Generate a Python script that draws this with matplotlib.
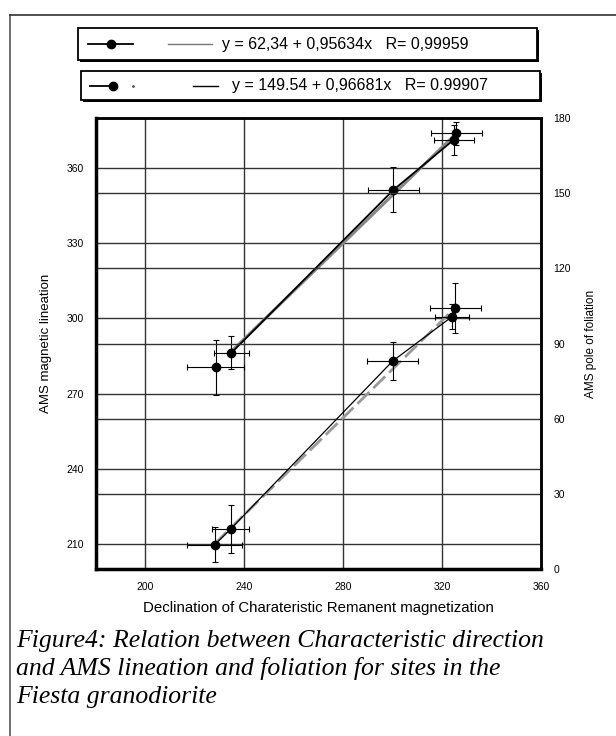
import matplotlib
matplotlib.use("Agg")
import matplotlib.pyplot as plt
import numpy as np
from matplotlib.patches import Rectangle
from matplotlib.lines import Line2D

# ---- data ----
lin_x = [228.5, 234.8, 300.3, 324.7, 325.8]
lin_y = [280.5, 286.3, 351.3, 371.3, 373.9]
lin_xerr = [11.5, 7.0, 10.3, 8.0, 10.3]
lin_yerr = [11.0, 6.5, 9.0, 6.0, 4.5]

fol_x = [228.0, 234.5, 300.0, 324.0, 325.4]
fol_y = [9.6, 16.0, 83.0, 100.7, 104.3]
fol_xerr = [11.0, 7.5, 10.3, 7.0, 10.3]
fol_yerr = [7.0, 9.5, 7.5, 5.0, 10.0]

lin_fit = (62.34, 0.95634)
legend_texts = ["y = 62,34 + 0,95634x   R= 0,99959",
                "y = 149.54 + 0,96681x   R= 0.99907"]

x_ticks = [200, 240, 280, 320, 360]
left_ticks = [210, 240, 270, 300, 330, 360]
right_ticks = [0, 30, 60, 90, 120, 150, 180]

xlabel = "Declination of Charateristic Remanent magnetization"
ylabel_left = "AMS magnetic lineation"
ylabel_right = "AMS pole of foliation"
caption_lines = ["Figure4: Relation between Characteristic direction",
                 "and AMS lineation and foliation for sites in the",
                 "Fiesta granodiorite"]

plt.rcParams['font.family'] = ['Liberation Sans', 'DejaVu Sans']

W, H = 616, 736
fig = plt.figure(figsize=(W / 100, H / 100), dpi=100)

def fx(px):
    return px / W

def fy(py):
    return 1 - py / H

# page border lines
fig.add_artist(Line2D([fx(10), fx(10)], [fy(15), fy(736)], color='#555555', lw=1.2))
fig.add_artist(Line2D([fx(10), fx(616)], [fy(15), fy(15)], color='#333333', lw=1.2))

ax = fig.add_axes([fx(96), fy(569), fx(541) - fx(96), fy(118) - fy(569)])
ax2 = ax.twinx()

ax.set_xlim(180, 360)
ax.set_ylim(200, 380)
ax2.set_ylim(0, 180)

ax.set_xticks(x_ticks)
ax.set_yticks(left_ticks)
ax2.set_yticks(right_ticks)

for a in (ax, ax2):
    a.tick_params(length=0, labelsize=7.5)
ax.tick_params(axis='x', pad=9)
ax.tick_params(axis='y', pad=9)
ax2.tick_params(axis='y', pad=9)

# gridlines
gcol = '#333333'
for xv in x_ticks[:-1]:
    ax.axvline(xv, color=gcol, lw=1.0, zorder=0)
for yv in left_ticks:
    ax.axhline(yv, color=gcol, lw=1.0, zorder=0)
for yv in right_ticks[1:-1]:
    ax2.axhline(yv, color=gcol, lw=1.0, zorder=0)

for a in (ax, ax2):
    for s in a.spines.values():
        s.set_linewidth(1.8)
        s.set_color('black')
ax.spines['left'].set_linewidth(2.5)
ax.spines['bottom'].set_linewidth(2.5)

# lineation
xs = np.array(lin_x)
ax.plot(xs[[1, -1]], lin_fit[0] + lin_fit[1] * xs[[1, -1]], color='#888888', lw=2.2, zorder=2)
ax.plot(lin_x[1:], lin_y[1:], color='black', lw=1.3, zorder=3)
ax.errorbar(lin_x, lin_y, xerr=lin_xerr, yerr=lin_yerr, fmt='o', color='black',
            ms=6, elinewidth=0.8, capsize=2, capthick=0.8, zorder=4)

# foliation
fx_arr = np.array(fol_x)
coef = np.polyfit(fol_x, fol_y, 1)
ax2.plot(fx_arr[[0, -1]], np.polyval(coef, fx_arr[[0, -1]]), color='#999999', lw=2.0,
         ls=(0, (6, 2)), zorder=2)
ax2.plot(fol_x, fol_y, color='black', lw=0.9, zorder=3)
ax2.errorbar(fol_x, fol_y, xerr=fol_xerr, yerr=fol_yerr, fmt='o', color='black',
             ms=6, elinewidth=0.8, capsize=2, capthick=0.8, zorder=4)

ax.set_xlabel(xlabel, fontsize=10.8, labelpad=7)
ax.set_ylabel(ylabel_left, fontsize=9.5, labelpad=10)
ax2.set_ylabel(ylabel_right, fontsize=8.5, labelpad=10)

# legend boxes
boxes = [(78, 28, 537, 60), (81, 71, 540, 100)]
for i, (x0, y0, x1, y1) in enumerate(boxes):
    # shadow
    fig.add_artist(Rectangle((fx(x0 + 2), fy(y1 + 2)), fx(x1 - x0), fy(y0) - fy(y1),
                             transform=fig.transFigure, facecolor='black', edgecolor='black', lw=0))
    fig.add_artist(Rectangle((fx(x0), fy(y1)), fx(x1 - x0), fy(y0) - fy(y1),
                             transform=fig.transFigure, facecolor='white', edgecolor='black', lw=1.3))
    yc = fy((y0 + y1) / 2)
    if i == 0:
        fig.add_artist(Line2D([fx(88), fx(133)], [yc, yc], color='black', lw=1.3))
        fig.add_artist(Line2D([fx(111)], [yc], marker='o', color='black', ms=6))
        fig.add_artist(Line2D([fx(168), fx(212)], [yc, yc], color='#777777', lw=1.0))
        fig.text(fx(222), yc, legend_texts[0], fontsize=11.5, va='center', ha='left')
    else:
        fig.add_artist(Line2D([fx(90), fx(112)], [yc, yc], color='black', lw=1.3))
        fig.add_artist(Line2D([fx(113)], [yc], marker='o', color='black', ms=6))
        fig.add_artist(Line2D([fx(133)], [yc], marker='.', color='#555555', ms=2))
        fig.add_artist(Line2D([fx(193), fx(218)], [yc, yc], color='black', lw=1.0))
        fig.text(fx(232), yc, legend_texts[1], fontsize=11.5, va='center', ha='left')

for k, line in enumerate(caption_lines):
    fig.text(fx(16), fy(647 + 28 * k), line, fontsize=18.5, style='italic',
             va='baseline', ha='left', family=['Liberation Serif', 'DejaVu Serif'])

fig.savefig('out.png', dpi=100)
